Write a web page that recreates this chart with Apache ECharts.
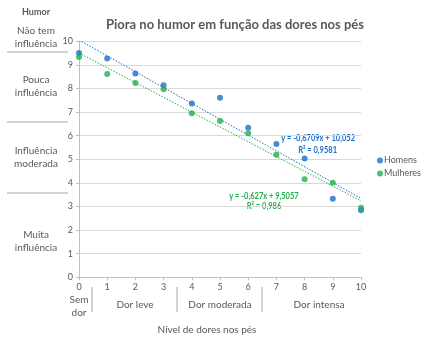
<!DOCTYPE html>
<html><head><meta charset="utf-8">
<script src="https://cdn.jsdelivr.net/npm/echarts@6/dist/echarts.min.js"></script>
<style>html,body{margin:0;padding:0;background:#fff}#c{width:424px;height:341px}</style>
</head><body><div id="c"></div>
<script>
const xLevels = [0,1,2,3,4,5,6,7,8,9,10];
const homens = [9.50,9.27,8.64,8.14,7.36,7.61,6.34,5.65,5.03,3.33,2.84];
const mulheres = [9.33,8.61,8.23,7.97,6.95,6.62,6.10,5.19,4.15,4.01,2.95];
const trendH = {slope:-0.6709, intercept:10.052, eq:'y = -0,6709x + 10,052', r2:'R² = 0,9581'};
const trendM = {slope:-0.627, intercept:9.5057, eq:'y = -0,627x + 9,5057', r2:'R² = 0,986'};
const yTicks = [0,1,2,3,4,5,6,7,8,9,10];
const humorLabels = ['Não tem\ninfluência','Pouca\ninfluência','Influência\nmoderada','Muita\ninfluência'];
const painLabels = ['Sem\ndor','Dor leve','Dor moderada','Dor intensa'];

const BLUE = '#1b6fc8', GREEN = '#1fb04b', TXT = '#595959';
const FONT = 'Lato';
const chart = echarts.init(document.getElementById('c'), null, {renderer:'canvas'});

function line(t){ return [[0, t.intercept],[10, t.slope*10 + t.intercept]]; }

const sideText = (txt, x, y, extra) => Object.assign({type:'text', x, y, style:{text:txt, fill:TXT, font:'10px '+FONT, textAlign:'center', textVerticalAlign:'middle', lineHeight:13}}, extra||{});
const hline = (x1,x2,y) => ({type:'line', shape:{x1,y1:y,x2,y2:y}, style:{stroke:'#a6a6a6', lineWidth:1}});
const vline = (x,y1,y2) => ({type:'line', shape:{x1:x,y1,x2:x,y2}, style:{stroke:'#a6a6a6', lineWidth:1}});
const eqText = (txt, x, y, color, align) => ({type:'text', x, y, scaleX:0.75, style:{text:txt, fill:color, font:'bold 10px '+FONT, textAlign:align, textVerticalAlign:'middle'}});

chart.setOption({
  animation:false,
  textStyle:{fontFamily:FONT},
  title:{text:'Piora no humor em função das dores nos pés', left:230, top:13, textAlign:'center',
    textStyle:{fontSize:13, fontWeight:'bold', color:TXT, fontFamily:FONT}},
  grid:{left:79, right:63, top:41.3, bottom:63.7},
  legend:{show:true, orient:'vertical', left:372, top:151, itemWidth:6, itemHeight:6, itemGap:4,
    icon:'circle', textStyle:{fontSize:9, color:TXT, fontFamily:FONT, padding:[0,0,0,-4]},
    data:['Homens','Mulheres']},
  xAxis:{type:'value', min:0, max:10, interval:1,
    axisLine:{lineStyle:{color:'#bfbfbf'}}, axisTick:{show:true, length:3, lineStyle:{color:'#bfbfbf'}},
    axisLabel:{fontSize:9, color:TXT, margin:5, fontFamily:FONT}, splitLine:{show:false}},
  yAxis:{type:'value', min:0, max:10, interval:1,
    axisLine:{show:true, lineStyle:{color:'#bfbfbf'}}, axisTick:{show:true, length:3, lineStyle:{color:'#bfbfbf'}},
    axisLabel:{fontSize:9, color:TXT, margin:6, fontFamily:FONT,
      formatter:v => yTicks.includes(v) ? String(v) : ''},
    splitLine:{lineStyle:{color:'#d9d9d9'}}},
  series:[
    {name:'Homens', type:'scatter', symbolSize:6, itemStyle:{color:BLUE}, z:5,
      data:xLevels.map((x,i)=>[x,homens[i]])},
    {name:'Mulheres', type:'scatter', symbolSize:6, itemStyle:{color:GREEN}, z:5,
      data:xLevels.map((x,i)=>[x,mulheres[i]])},
    {name:'tH', type:'line', data:line(trendH), symbol:'none', silent:true,
      lineStyle:{color:BLUE, width:1, type:[1.5,1.5]}, z:3},
    {name:'tM', type:'line', data:line(trendM), symbol:'none', silent:true,
      lineStyle:{color:GREEN, width:1, type:[1.5,1.5]}, z:3}
  ],
  graphic:[
    {type:'text', x:36, y:12, style:{text:'Humor', fill:TXT, font:'bold 9px '+FONT, textAlign:'center', textVerticalAlign:'middle'}},
    sideText(humorLabels[0], 36, 37),
    hline(7,68,52),
    sideText(humorLabels[1], 36, 86),
    hline(7,68,122),
    sideText(humorLabels[2], 36, 157),
    hline(7,68,193),
    sideText(humorLabels[3], 36, 241),
    sideText(painLabels[0], 79, 306),
    vline(92,287,312),
    sideText(painLabels[1], 135, 305),
    vline(177,287,312),
    sideText(painLabels[2], 220, 305),
    vline(262,287,312),
    sideText(painLabels[3], 319, 305),
    sideText('Nível de dores nos pés', 207, 330),
    eqText(trendH.eq, 355, 138, BLUE, 'right'),
    eqText(trendH.r2, 337, 150, BLUE, 'right'),
    eqText(trendM.eq, 264, 196, GREEN, 'center'),
    eqText(trendM.r2, 264, 206, GREEN, 'center')
  ]
});
</script></body></html>
